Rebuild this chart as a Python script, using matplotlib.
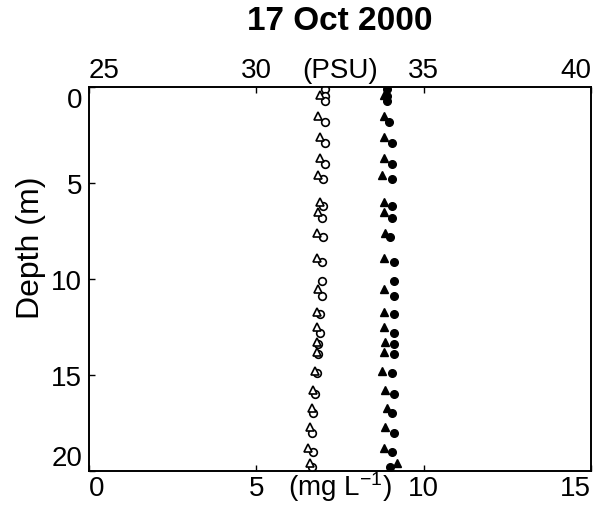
import matplotlib.pyplot as plt

# Datos leidos de la figura
# circulos: salinidad (PSU, eje superior) y oxigeno disuelto (mg/L, eje inferior)
depth_circ = [0.1, 0.45, 0.75, 1.8, 2.9, 4.0, 4.8, 6.2, 6.8, 7.8, 9.1, 10.1, 10.9,
              11.8, 12.8, 13.4, 13.9, 14.9, 16.0, 17.0, 18.0, 19.0, 19.8]
sal_circ = [32.05, 32.05, 32.05, 32.05, 32.05, 32.05, 32.0, 32.0, 31.95, 32.0, 31.95,
            31.95, 31.95, 31.9, 31.9, 31.85, 31.85, 31.8, 31.75, 31.7, 31.65, 31.7, 31.65]
do_circ = [8.9, 8.9, 8.9, 8.95, 9.05, 9.05, 9.05, 9.05, 9.05, 9.0, 9.1, 9.1, 9.1,
           9.1, 9.1, 9.1, 9.1, 9.05, 9.1, 9.05, 9.1, 9.05, 9.0]

# triangulos: segundo perfil
depth_tri = [0.4, 1.5, 2.6, 3.7, 4.6, 6.0, 6.5, 7.6, 8.9, 10.5, 11.7, 12.5,
             13.3, 13.8, 14.8, 15.8, 16.7, 17.7, 18.8, 19.6]
sal_tri = [31.9, 31.85, 31.9, 31.9, 31.85, 31.9, 31.85, 31.8, 31.8, 31.85, 31.8,
           31.8, 31.8, 31.8, 31.75, 31.7, 31.65, 31.6, 31.55, 31.6]
do_tri = [8.8, 8.8, 8.8, 8.8, 8.75, 8.8, 8.8, 8.85, 8.8, 8.8, 8.8, 8.8,
          8.85, 8.8, 8.75, 8.85, 8.9, 8.85, 8.8, 9.2]

plt.rcParams["font.family"] = ["Liberation Sans", "DejaVu Sans"]
plt.rcParams["mathtext.fontset"] = "custom"
plt.rcParams["mathtext.rm"] = "Liberation Sans"
plt.rcParams["mathtext.it"] = "Liberation Sans:italic"

fs = 20

fig = plt.figure(figsize=(5.95, 5.1), dpi=100)
ax = fig.add_axes([89 / 595, 1 - 472 / 510, 502 / 595, 384 / 510])
ax2 = ax.twiny()

# oxigeno (eje inferior), marcadores rellenos
ax.plot(do_circ, depth_circ, "o", color="black", ms=5.5, ls="none")
ax.plot(do_tri, depth_tri, "^", color="black", ms=5.5, ls="none")

# salinidad (eje superior), marcadores abiertos
ax2.plot(sal_circ, depth_circ, "o", mfc="white", mec="black", mew=1.2, ms=5.5, ls="none")
ax2.plot(sal_tri, depth_tri, "^", mfc="white", mec="black", mew=1.2, ms=5.5, ls="none")

ax.set_xlim(0, 15)
ax.set_ylim(20, 0)
ax2.set_xlim(25, 40)
ax.set_xticks([0, 5, 10, 15])
ax.set_yticks([0, 5, 10, 15, 20])
ax2.set_xticks([25, 30, 35, 40])

for a in (ax, ax2):
    for s in a.spines.values():
        s.set_linewidth(1.2)
    a.tick_params(direction="in", length=4, width=1.0, labelsize=fs, pad=3)
ax.tick_params(axis="y", pad=5)

# etiquetas extremas alineadas hacia dentro, como en el original
labs = ax.get_xticklabels()
labs[0].set_ha("left")
labs[-1].set_ha("right")
labs = ax2.get_xticklabels()
labs[0].set_ha("left")
labs[-1].set_ha("right")
labs = ax.get_yticklabels()
labs[0].set_va("top")
labs[-1].set_va("bottom")

# unidades entre las marcas, a la altura de las etiquetas
ax.annotate("(mg L$^{-1}$)", xy=(7.5, 0), xycoords=("data", "axes fraction"),
            xytext=(0, -3 - 0.73 * fs), textcoords="offset points",
            ha="center", va="baseline", fontsize=fs)
ax2.annotate("(PSU)", xy=(32.5, 1), xycoords=("data", "axes fraction"),
             xytext=(0, 3 + 0.21 * fs), textcoords="offset points",
             ha="center", va="baseline", fontsize=fs)

fig.text(31 / 595, 1 - 248 / 510, "Depth (m)", rotation=90, ha="center", va="center",
         fontsize=23)
fig.text(340 / 595, 1 - 22 / 510, "17 Oct 2000", ha="center", va="center",
         fontsize=24, fontweight="bold")

fig.savefig("out.png", dpi=100)
